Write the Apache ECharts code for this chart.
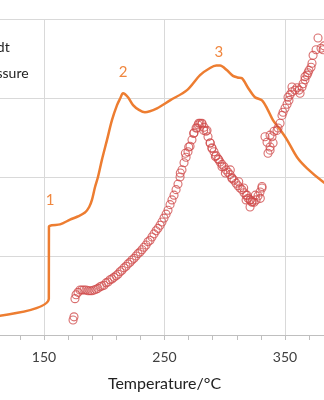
<!DOCTYPE html>
<html><head><meta charset="utf-8">
<script src="https://cdn.jsdelivr.net/npm/echarts@6/dist/echarts.min.js"></script>
<style>html,body{margin:0;padding:0;background:#fff}#c{width:324px;height:400px}</style>
</head><body><div id="c"></div>
<script>
const seriesNames = ['dT/dt', 'Pressure'];
const xTitle = 'Temperature/°C';
// orange curve: [temperature, value]
const rateData = [[100,0.22],[154.0,0.46],[154.1,1.37],[156.6,1.39],[163.3,1.40],[171.6,1.46],[178,1.50],[184.0,1.55],[187.5,1.62],[189.8,1.71],[192.3,1.87],[194.8,2.00],[198.1,2.22],[202.3,2.47],[206.4,2.72],[210.6,2.91],[213.1,2.99],[215.6,3.06],[219.7,3.01],[223.9,2.91],[228.8,2.85],[233.8,2.82],[243.8,2.87],[254.6,2.97],[268.7,3.10],[279.5,3.29],[287.8,3.38],[293,3.41],[296.1,3.41],[301.9,3.35],[306.8,3.28],[310.5,3.26],[314.3,3.25],[319.3,3.13],[325.1,3.01],[330.9,2.97],[335.1,2.87],[340.0,2.72],[345.9,2.60],[351.7,2.47],[360.0,2.25],[368.3,2.11],[381.5,1.94],[395,1.80]];
// red circles: [temperature, value]
const pressureData = [[174.1,0.19],[174.9,0.23],
[175.7,0.46],[176.6,0.51],[178.2,0.54],[179.9,0.57],[181.5,0.57],[183.2,0.57],[184.9,0.57],[186.5,0.56],[188.2,0.56],[189.8,0.56],[191.5,0.57],[193.2,0.58],[194.8,0.59],[196.5,0.61],[198.1,0.62],[199.8,0.63],[201.5,0.66],[203.1,0.67],[204.8,0.70],[206.4,0.71],[208.1,0.73],[209.8,0.75],[211.4,0.77],[213.1,0.80],[214.7,0.82],[216.4,0.85],[218.1,0.87],[219.7,0.90],[221.4,0.92],[223.0,0.95],[224.7,0.97],[226.4,1.00],[228.0,1.03],[229.7,1.05],[231.3,1.08],[233.0,1.11],[234.7,1.14],[236.3,1.18],[238.0,1.20],[239.6,1.24],[241.3,1.28],[243.0,1.32],[244.6,1.35],[246.3,1.39],[247.9,1.43],[249.6,1.48],[251.3,1.53],[252.9,1.58],[254.6,1.65],[256.2,1.71],[257.9,1.77],[259.6,1.84],[261.2,1.91],[262.9,2.00],[264.5,2.09],[266.2,2.18],[267.9,2.25],[269.5,2.32],[271.2,2.39],[272.8,2.47],[274.5,2.56],[276.2,2.62],[277.8,2.66],[279.5,2.68],[281.1,2.67],[282.8,2.63],[284.5,2.58],[286.1,2.51],[287.8,2.43],[289.4,2.37],[291.1,2.32],[292.8,2.27],[294.4,2.23],[296.1,2.19],[297.7,2.16],[299.4,2.13],[301.1,2.09],[302.7,2.06],[304.4,2.03],[306.0,1.99],[307.7,1.96],[309.4,1.92],[311.0,1.89],[312.7,1.86],[314.3,1.84],[316.0,1.80],[317.7,1.77],[319.3,1.73],[321.0,1.71],[322.6,1.68],[324.3,1.68],[326.0,1.71],[327.6,1.76],[329.3,1.81],[330.9,1.86],
[263.1,2.05],[267.3,2.30],[270.1,2.38],[274.2,2.55],[277.0,2.62],[278.4,2.68],[281.1,2.68],[282.5,2.59],[285.3,2.59],[288.0,2.43],[289.4,2.36],[292.2,2.26],[295.0,2.22],[297.7,2.13],[300.5,2.05],[304.6,2.09],[306.0,1.98],[311.6,1.94],[315.7,1.86],[318.5,1.77],[321.2,1.71],[322.6,1.69],[325.4,1.77],[329.5,1.73],[330.9,1.88],[321.0,1.62],[317.7,1.71],
[333.4,2.51],[335.1,2.44],[337.6,2.53],[339.2,2.51],[340.1,2.43],[337.6,2.38],[335.9,2.30],[337.6,2.34],[340.9,2.58],[343.4,2.59],[344.2,2.62],[345.9,2.68],[347.5,2.78],[348.4,2.82],[350.0,2.87],[351.7,2.92],[352.5,3.01],[353.3,2.97],[354.2,3.04],[355.8,3.08],[355.8,3.14],[358.3,3.10],[360.0,3.13],[361.7,3.10],[362.5,3.06],[364.1,3.14],[365.0,3.18],[366.6,3.23],[366.6,3.27],[368.3,3.29],[369.1,3.32],[369.9,3.35],[371.6,3.39],[372.4,3.44],[373.3,3.54],[375.8,3.61],[377.4,3.76],[379.9,3.63],[381.6,3.61],[382.4,3.66]];
// peak annotations: [label, temperature, value]
const peakLabels = [['1',155.0,1.71],['2',215.6,3.33],['3',295.2,3.58]];
const xMin = 50, xMax = 450, xStep = 100;
const yMin = 0, yMax = 4, yStep = 1;

const orange = '#ED7D31', red = '#D04A4A', grey = '#D9D9D9';
const font = 'Lato, "Open Sans", sans-serif';
const chart = echarts.init(document.getElementById('c'), null, {renderer:'canvas'});
chart.setOption({
  animation:false,
  textStyle:{fontFamily:font},
  grid:{left:-76.5, right:-81.5, top:19, bottom:65, containLabel:false, outerBoundsMode:'none'},
  legend:{orient:'vertical', left:-60, top:35, itemGap:11, itemWidth:25, itemHeight:14,
    textStyle:{fontSize:14, color:'#222', fontFamily:font},
    data:seriesNames},
  xAxis:{type:'value', min:xMin, max:xMax, interval:xStep,
    name:xTitle, nameLocation:'middle', nameGap:41,
    nameTextStyle:{fontSize:16, color:'#222', fontFamily:font},
    axisLine:{show:true, lineStyle:{color:'#BFBFBF', width:1}},
    axisTick:{show:true, length:5, lineStyle:{color:'#BFBFBF'}},
    minorTick:{show:true, splitNumber:5, length:5, lineStyle:{color:'#BFBFBF'}},
    axisLabel:{fontSize:14, color:'#404040', margin:15, fontFamily:font, hideOverlap:false},
    splitLine:{show:true, lineStyle:{color:grey, width:1}}},
  yAxis:{type:'value', min:yMin, max:yMax, interval:yStep,
    axisLine:{show:false}, axisTick:{show:false}, axisLabel:{show:false},
    splitLine:{show:true, lineStyle:{color:grey, width:1}}},
  series:[
    {name:seriesNames[0], type:'line', data:rateData, smooth:0.3, symbol:'none',
      lineStyle:{color:orange, width:2.5}, itemStyle:{color:orange}, z:2,
      markPoint:{symbol:'circle', symbolSize:0,
        label:{show:true, position:'inside', color:'#F0873F', fontSize:15, fontFamily:font,
          formatter:p=>p.name},
        data:peakLabels.map(d=>({name:d[0], coord:[d[1],d[2]]}))}},
    {name:seriesNames[1], type:'scatter', data:pressureData, symbol:'circle', symbolSize:8,
      itemStyle:{color:'rgba(255,255,255,0)', borderColor:red, borderWidth:1.1}, z:3}
  ]
});
</script></body></html>
